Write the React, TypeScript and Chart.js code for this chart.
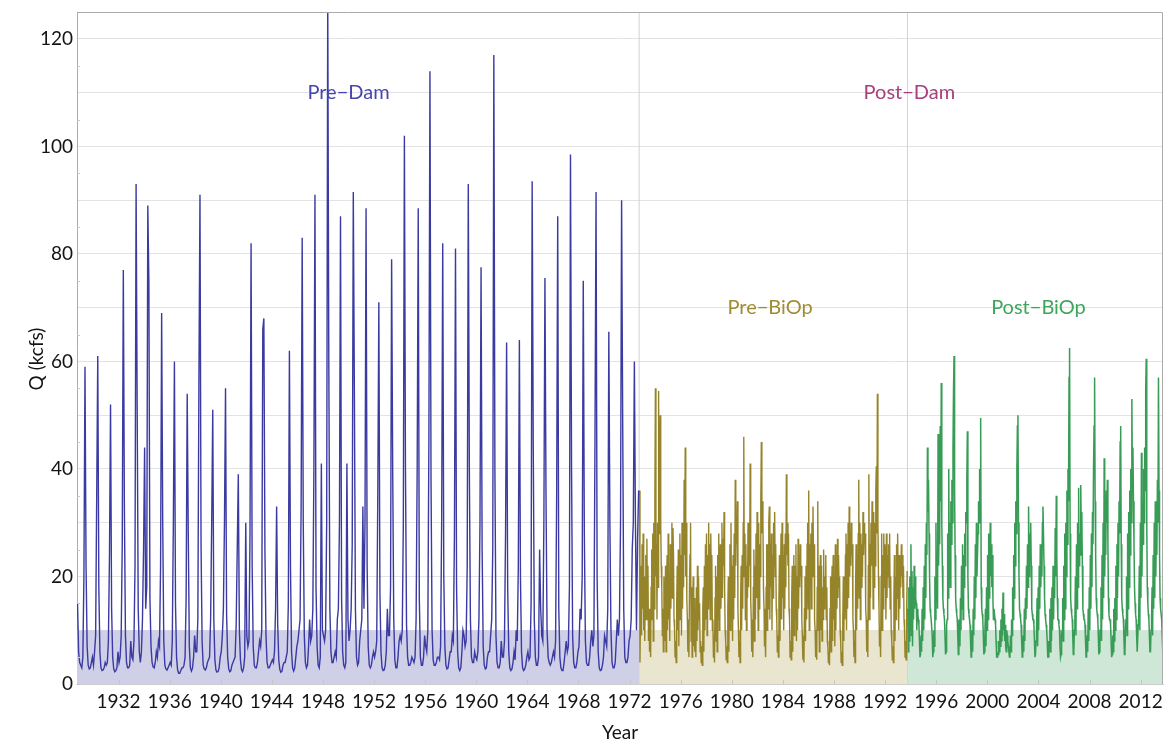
import React, { useEffect, useRef } from 'react';
import { Chart, registerables } from 'chart.js';

Chart.register(...registerables);

// ---- axis / layout data ----
const X_MIN = 1928.75; // start of water year 1929
const X_MAX = 2013.75; // end of water year 2013
const Y_MAX = 125;
const X_TICKS = [1932, 1936, 1940, 1944, 1948, 1952, 1956, 1960, 1964, 1968, 1972, 1976, 1980, 1984, 1988, 1992, 1996, 2000, 2004, 2008, 2012];
const Y_GRID = [0, 10, 20, 30, 40, 50, 60, 70, 80, 90, 100, 110, 120];
const Y_LABELS = [0, 20, 40, 60, 80, 100, 120];
const PERIOD_BREAKS = [1972.75, 1993.75];
const SHADE_TOP = 10;
const X_TITLE = 'Year';
const Y_TITLE = 'Q (kcfs)';

// ---- period annotations ----
const LABEL_TEXT = ['Pre\u2212Dam', 'Post\u2212Dam', 'Pre\u2212BiOp', 'Post\u2212BiOp'];
const LABEL_X = [1950, 1993.9, 1983, 2004];
const LABEL_Y = [110, 110, 70, 70];

// ---- flow data (kcfs) ----
// Pre-Dam: one row per water year (WY1929..WY1972), monthly values Oct..Sep
const PRE_DAM_FIRST_WY = 1929;
const preDam = [
  [15, 6, 4, 3.5, 3, 5, 20, 59, 22, 7, 3.5, 2.8],
  [3, 4, 5, 3.5, 6, 9, 35, 61, 18, 6, 3, 2.5],
  [2.6, 3, 4, 3.5, 4, 8, 24, 52, 14, 5, 2.8, 2.3],
  [2.5, 3, 6, 4, 5, 9, 26, 77, 33, 9, 4, 3],
  [3, 3.5, 8, 5, 4.5, 8, 22, 93, 52, 14, 6, 4],
  [6, 12, 25, 44, 14, 18, 89, 75, 16, 7, 4, 3.2],
  [3, 4, 6, 5, 8, 7, 22, 69, 30, 8, 3.5, 2.8],
  [2.6, 3, 3.5, 4, 3.5, 8, 30, 60, 15, 5, 2.6, 2],
  [2, 2.5, 3, 3, 3.5, 5, 16, 54, 28, 7, 3, 2.4],
  [3, 5, 9, 6, 6, 12, 56, 91, 26, 8, 3.5, 2.8],
  [2.6, 3, 4, 4.5, 5, 12, 30, 51, 12, 4.5, 2.6, 2.2],
  [2.3, 3, 5, 6, 9, 14, 30, 55, 13, 5, 2.8, 2.3],
  [2.5, 3.5, 4, 4.5, 5, 11, 25, 39, 10, 4.5, 2.7, 2.3],
  [3, 5, 30, 9, 7, 8, 28, 82, 22, 7, 3.5, 3],
  [3, 4, 6, 8, 7, 10, 66, 68, 25, 9, 4, 3],
  [3, 3.5, 4, 4.5, 4, 6, 14, 33, 11, 4.5, 2.7, 2.2],
  [2.4, 3.5, 4, 4, 5, 6, 15, 62, 22, 6, 3, 2.4],
  [3, 5, 7, 8, 10, 12, 33, 83, 30, 9, 4, 3],
  [3.5, 7, 12, 8, 9, 14, 40, 91, 18, 7, 3.5, 3],
  [5, 41, 10, 9, 8, 10, 30, 128, 60, 14, 6, 4],
  [4, 5, 6, 5, 12, 14, 30, 87, 16, 6, 3.5, 3],
  [4, 41, 12, 8, 10, 14, 26, 91.5, 55, 14, 5, 3.5],
  [4, 8, 10, 12, 33, 14, 30, 88.5, 22, 7, 3.5, 3],
  [3.5, 5, 6, 5, 6, 8, 35, 71, 17, 6, 3, 2.5],
  [2.6, 3.5, 6, 14, 9, 9, 18, 79, 40, 12, 4.5, 3],
  [3, 5, 8, 9, 8, 10, 30, 102, 40, 11, 5, 3.5],
  [3.5, 4, 5, 4.5, 4, 5, 12, 40, 88.5, 16, 5, 3.5],
  [3.5, 5, 9, 7, 6, 10, 45, 114, 38, 10, 4.5, 3.5],
  [3.5, 4, 5, 5, 4.5, 7, 30, 82, 20, 7, 3.5, 2.8],
  [3, 4.5, 6, 6, 9, 8, 28, 81, 18, 6, 3, 2.5],
  [3, 6, 10, 9, 7, 8, 22, 93, 40, 12, 5, 4],
  [4, 6, 5, 4.5, 6, 12, 30, 77.5, 25, 7, 3.5, 2.8],
  [3, 5, 6, 6, 9, 12, 25, 117, 40, 9, 4, 3],
  [3, 4, 8, 5, 5, 8, 28, 63.5, 18, 6, 3, 2.5],
  [2.8, 4, 6, 4.5, 10, 8, 22, 64, 20, 6, 3, 2.5],
  [2.8, 3.5, 5, 6, 4.5, 5, 15, 93.5, 45, 12, 5, 3.5],
  [3.5, 5, 25, 14, 9, 8, 30, 75.5, 35, 10, 5, 4],
  [3.5, 4, 5, 6, 5, 8, 35, 87, 14, 5, 3, 2.5],
  [2.5, 4, 6, 8, 6, 7, 18, 98.5, 40, 9, 4, 3],
  [3, 4, 6, 7, 14, 12, 20, 75, 28, 8, 4, 3.5],
  [3.5, 5, 8, 10, 7, 9, 45, 91.5, 20, 6, 3, 2.5],
  [2.6, 3.5, 5, 9, 8, 7, 14, 65.5, 30, 10, 4, 3],
  [3, 4, 8, 12, 9, 12, 30, 90, 50, 14, 5, 4],
  [4, 5, 8, 9, 12, 25, 30, 60, 30, 10, 27, 36],
];

// Pre-BiOp: one row per water year (WY1973..WY1993), semi-monthly values Oct..Sep
const PRE_BIOP_FIRST_WY = 1973;
const preBiOp = [
  [36, 4, 12, 22, 9, 26, 14, 28, 10, 20, 8, 18, 24, 12, 27, 15, 22, 8, 14, 6, 10, 5, 18, 25],
  [12, 28, 8, 30, 14, 35, 55, 20, 26, 12, 30, 18, 54.5, 28, 34, 50, 30, 22, 18, 9, 14, 6, 20, 12],
  [8, 22, 6, 18, 24, 10, 28, 12, 20, 8, 26, 14, 22, 30, 16, 29, 24, 12, 10, 5, 8, 4, 15, 22],
  [10, 25, 7, 20, 28, 12, 24, 9, 30, 14, 26, 18, 38, 24, 44, 20, 30, 16, 12, 6, 9, 5, 18, 24],
  [30, 8, 18, 5, 14, 20, 7, 16, 6, 12, 5, 18, 8, 22, 10, 20, 12, 15, 6, 8, 4, 7, 3.5, 14],
  [18, 6, 22, 10, 26, 12, 28, 9, 24, 14, 30, 16, 26, 12, 28, 20, 24, 10, 12, 5, 9, 4, 16, 22],
  [8, 20, 6, 24, 12, 28, 10, 22, 26, 14, 20, 30, 16, 27, 22, 32, 18, 10, 8, 4.5, 7, 4, 14, 20],
  [6, 18, 26, 10, 30, 14, 22, 8, 24, 12, 28, 16, 38, 22, 30, 26, 34, 14, 10, 5, 8, 4, 15, 22],
  [10, 24, 14, 30, 46, 20, 28, 12, 26, 10, 22, 16, 30, 18, 28, 22, 41, 16, 12, 6, 9, 5, 18, 25],
  [8, 22, 12, 28, 16, 32, 24, 10, 30, 14, 26, 20, 34, 45, 28, 34, 30, 18, 14, 7, 10, 5, 18, 26],
  [10, 26, 14, 30, 33, 12, 26, 18, 28, 10, 24, 16, 30, 22, 32, 20, 26, 14, 12, 6, 9, 5, 16, 24],
  [8, 20, 28, 12, 30, 16, 24, 10, 26, 14, 28, 18, 39, 24, 30, 22, 28, 14, 12, 5, 8, 4.5, 16, 22],
  [6, 18, 24, 9, 22, 12, 26, 8, 20, 10, 27, 14, 24, 18, 26, 20, 22, 12, 9, 4.5, 7, 4, 14, 20],
  [8, 22, 12, 26, 30, 14, 36, 10, 26, 18, 28, 14, 30, 20, 33, 24, 26, 12, 10, 5, 8, 4.5, 18, 34],
  [10, 22, 6, 20, 24, 10, 22, 8, 18, 12, 25, 14, 20, 16, 24, 12, 18, 8, 7, 4, 6, 3.5, 14, 20],
  [6, 18, 22, 8, 24, 12, 20, 7, 26, 10, 22, 14, 27, 16, 24, 18, 20, 10, 8, 4, 6, 3.5, 12, 20],
  [8, 20, 12, 24, 28, 10, 26, 14, 30, 16, 33, 20, 28, 22, 30, 24, 26, 12, 10, 5, 8, 4, 18, 26],
  [10, 24, 14, 28, 38, 16, 30, 12, 28, 18, 26, 20, 32, 24, 30, 26, 28, 14, 12, 6, 10, 5, 22, 39],
  [12, 26, 16, 30, 22, 34, 28, 14, 32, 18, 30, 22, 36, 40.5, 28, 54, 30, 20, 14, 7, 10, 5, 20, 28],
  [10, 24, 14, 28, 18, 26, 22, 12, 28, 16, 24, 20, 26, 18, 28, 14, 20, 10, 8, 4.5, 7, 4, 16, 24],
  [8, 20, 12, 26, 16, 28, 20, 10, 24, 14, 22, 18, 26, 20, 24, 16, 22, 12, 10, 5, 8, 4.5, 14, 21],
];

// Post-BiOp: one row per water year (WY1994..WY2013), semi-monthly values Oct..Sep
const POST_BIOP_FIRST_WY = 1994;
const postBiOp = [
  [14, 6, 18, 8, 20, 10, 26, 9, 21, 7, 18, 12, 22, 14, 20, 16, 15, 10, 14, 13, 12, 11, 8, 5],
  [5.5, 9, 6, 14, 8, 18, 10, 22, 12, 26, 16, 30, 24, 44, 32, 38, 28, 20, 14, 13, 12, 12, 9, 5],
  [6, 10, 7, 20, 12, 30, 18, 24, 14, 46.5, 22, 30, 26, 48, 34, 56, 30, 22, 16, 14, 13, 12, 9, 5.5],
  [6, 11, 12, 28, 16, 40, 22, 30, 18, 34, 26, 38, 30, 44, 54.5, 61, 36, 24, 16, 14, 13, 12, 9, 5.5],
  [6, 12, 7, 16, 10, 22, 14, 26, 12, 24, 18, 28, 22, 32, 30, 38, 47, 20, 14, 13, 12, 11, 8, 5],
  [5.5, 10, 6, 14, 9, 20, 12, 26, 16, 30, 20, 24, 28, 34, 30, 40, 36, 49.5, 18, 14, 13, 12, 9, 5.5],
  [6, 10, 14, 7, 18, 10, 24, 12, 28, 16, 22, 30, 20, 26, 18, 24, 16, 12, 14, 13, 12, 11, 8, 5],
  [5, 6, 5.5, 8, 6, 10, 7, 12, 8, 14, 9, 17, 10, 13, 8, 11, 7, 6, 10, 9, 8, 7, 6, 5],
  [5.5, 9, 6, 12, 9, 18, 12, 24, 16, 30, 22, 34, 28, 40, 48, 50, 30, 20, 14, 13, 12, 11, 8, 5],
  [5.5, 9, 6, 14, 8, 16, 12, 22, 14, 26, 18, 33, 20, 28, 24, 30, 22, 14, 13, 12, 12, 11, 8, 5],
  [5.5, 8, 10, 16, 7, 18, 10, 22, 14, 26, 18, 24, 20, 30, 33, 28, 22, 16, 13, 12, 11, 10, 8, 5],
  [5, 8, 7, 14, 6, 16, 8, 18, 10, 22, 12, 20, 16, 29, 20, 35, 24, 16, 12, 12, 11, 10, 7, 5],
  [5.5, 9, 10, 16, 8, 22, 12, 28, 14, 30, 20, 36, 26, 40, 34, 57, 62.5, 28, 16, 14, 13, 12, 9, 5.5],
  [6, 10, 12, 20, 9, 26, 14, 30, 18, 36.5, 22, 28, 24, 37, 28, 32, 22, 14, 13, 12, 12, 11, 8, 5],
  [5.5, 9, 6, 14, 8, 18, 10, 24, 14, 28, 18, 32, 26, 40, 48, 57, 34, 24, 16, 14, 13, 12, 9, 5.5],
  [6, 10, 10, 18, 8, 24, 12, 30, 16, 42, 20, 28, 24, 36, 30, 38, 26, 16, 13, 12, 12, 11, 8, 5],
  [5.5, 9, 6, 14, 8, 16, 10, 22, 12, 26, 16, 30, 20, 34, 28, 45, 48, 26, 16, 14, 13, 12, 9, 5.5],
  [6, 10, 12, 20, 9, 28, 14, 32, 18, 36, 24, 40, 30, 53, 38, 44, 34, 26, 18, 15, 13, 12, 9, 6],
  [6, 11, 14, 22, 10, 30, 16, 43, 20, 34, 26, 40, 30, 44, 36, 54.5, 60.5, 30, 18, 15, 13, 12, 9, 6],
  [6, 10, 12, 18, 9, 24, 14, 30, 16, 34, 20, 28, 24, 38, 30, 57, 36, 24, 16, 14, 13, 12, 9, 6],
];

// ---- styles ----
const FONT = 'Lato, "Open Sans", "DejaVu Sans", sans-serif';
const LINE_COLORS = ['rgb(58,58,162)', 'rgb(150,132,42)', 'rgb(56,156,86)'];
const LINE_WIDTHS = [1.4, 1.4, 1.5];
const SHADE_COLORS = ['rgba(207,207,231,1)', 'rgba(233,229,206,1)', 'rgba(207,231,214,1)'];
const LABEL_COLORS = ['rgb(70,70,175)', 'rgb(165,65,125)', 'rgb(160,140,50)', 'rgb(62,165,92)'];

function toPoints(rows: number[][], firstWY: number) {
  const pts: { x: number; y: number }[] = [];
  rows.forEach((row, r) => {
    row.forEach((v, i) => {
      pts.push({ x: firstWY + r - 1 + 0.75 + (i + 0.5) / row.length, y: v });
    });
  });
  return pts;
}

const decorPlugin = {
  id: 'decor',
  afterDatasetsDraw(chart: any) {
    const { ctx, chartArea: a, scales } = chart;
    const x = scales.x;
    const y = scales.y;
    ctx.save();
    ctx.lineWidth = 1;
    ctx.strokeStyle = '#ababab';
    ctx.beginPath();
    ctx.moveTo(a.left, a.top + 0.5);
    ctx.lineTo(a.right - 0.5, a.top + 0.5);
    ctx.lineTo(a.right - 0.5, a.bottom);
    ctx.stroke();
    ctx.strokeStyle = '#c6c6c6';
    X_TICKS.forEach((v) => {
      const px = Math.round(x.getPixelForValue(v)) + 0.5;
      ctx.beginPath();
      ctx.moveTo(px, a.bottom);
      ctx.lineTo(px, a.bottom - 4);
      ctx.stroke();
    });
    for (let v = 5; v < Y_MAX; v += 10) {
      const py = Math.round(y.getPixelForValue(v)) + 0.5;
      ctx.beginPath();
      ctx.moveTo(a.left, py);
      ctx.lineTo(a.left + 3, py);
      ctx.stroke();
    }
    ctx.font = `20px ${FONT}`;
    ctx.textAlign = 'center';
    ctx.textBaseline = 'middle';
    LABEL_TEXT.forEach((t, i) => {
      ctx.fillStyle = LABEL_COLORS[i];
      ctx.fillText(t, x.getPixelForValue(LABEL_X[i]), y.getPixelForValue(LABEL_Y[i]));
    });
    // axis titles
    ctx.fillStyle = '#141414';
    ctx.font = `19px ${FONT}`;
    ctx.fillText(X_TITLE, (a.left + a.right) / 2, 733);
    ctx.translate(37, 359);
    ctx.rotate(-Math.PI / 2);
    ctx.fillText(Y_TITLE, 0, 0);
    ctx.restore();
  },
};

export default function App() {
  const canvasRef = useRef<HTMLCanvasElement | null>(null);

  useEffect(() => {
    document.body.style.margin = '0';
    const canvas = canvasRef.current;
    if (!canvas) return;

    const segBounds = [
      [X_MIN, PERIOD_BREAKS[0]],
      [PERIOD_BREAKS[0], PERIOD_BREAKS[1]],
      [PERIOD_BREAKS[1], X_MAX],
    ];
    const series = [
      toPoints(preDam, PRE_DAM_FIRST_WY),
      toPoints(preBiOp, PRE_BIOP_FIRST_WY),
      toPoints(postBiOp, POST_BIOP_FIRST_WY),
    ];

    const datasets: any[] = [];
    series.forEach((pts, i) => {
      datasets.push({
        data: pts,
        borderColor: LINE_COLORS[i],
        borderWidth: LINE_WIDTHS[i],
        pointRadius: 0,
        tension: 0,
        fill: false,
        order: 0,
      });
    });
    PERIOD_BREAKS.forEach((b) => {
      datasets.push({
        data: [{ x: b, y: 0 }, { x: b, y: Y_MAX }],
        borderColor: '#d4d4d4',
        borderWidth: 1,
        pointRadius: 0,
        fill: false,
        order: 1,
      });
    });
    segBounds.forEach((s, i) => {
      datasets.push({
        data: [{ x: s[0], y: SHADE_TOP }, { x: s[1], y: SHADE_TOP }],
        borderWidth: 0,
        borderColor: 'rgba(0,0,0,0)',
        backgroundColor: SHADE_COLORS[i],
        pointRadius: 0,
        fill: 'origin',
        order: 2,
      });
    });

    const chart = new Chart(canvas, {
      type: 'line',
      data: { datasets },
      options: {
        animation: false,
        responsive: false,
        events: [],
        layout: { padding: { top: 12, right: 3, left: 0, bottom: 0 } },
        plugins: {
          legend: { display: false },
          tooltip: { enabled: false },
        },
        scales: {
          x: {
            type: 'linear',
            min: X_MIN,
            max: X_MAX,
            afterBuildTicks: (s: any) => {
              s.ticks = X_TICKS.map((v) => ({ value: v }));
            },
            afterFit: (s: any) => {
              s.height = 58;
              s.paddingLeft = 0;
              s.paddingRight = 0;
            },
            grid: { display: false, drawTicks: false },
            border: { display: true, color: '#cccccc' },
            ticks: {
              autoSkip: false,
              maxRotation: 0,
              padding: 6,
              color: '#141414',
              font: { family: FONT, size: 19 },
              callback: (v: any) => String(v),
            },
          },
          y: {
            type: 'linear',
            min: 0,
            max: Y_MAX,
            afterBuildTicks: (s: any) => {
              s.ticks = Y_GRID.map((v) => ({ value: v }));
            },
            afterFit: (s: any) => {
              s.width = 77;
              s.paddingTop = 0;
              s.paddingBottom = 0;
            },
            grid: { color: '#e3e3e3', drawTicks: false },
            border: { display: true, color: '#ababab' },
            ticks: {
              padding: 4,
              color: '#141414',
              font: { family: FONT, size: 19 },
              callback: (v: any) => (Y_LABELS.includes(Number(v)) ? String(v) : ''),
            },
          },
        },
      },
      plugins: [decorPlugin],
    } as any);

    return () => {
      chart.destroy();
    };
  }, []);

  return (
    <div style={{ width: 1166, height: 742 }}>
      <canvas ref={canvasRef} width={1166} height={742} style={{ display: 'block' }} />
    </div>
  );
}
